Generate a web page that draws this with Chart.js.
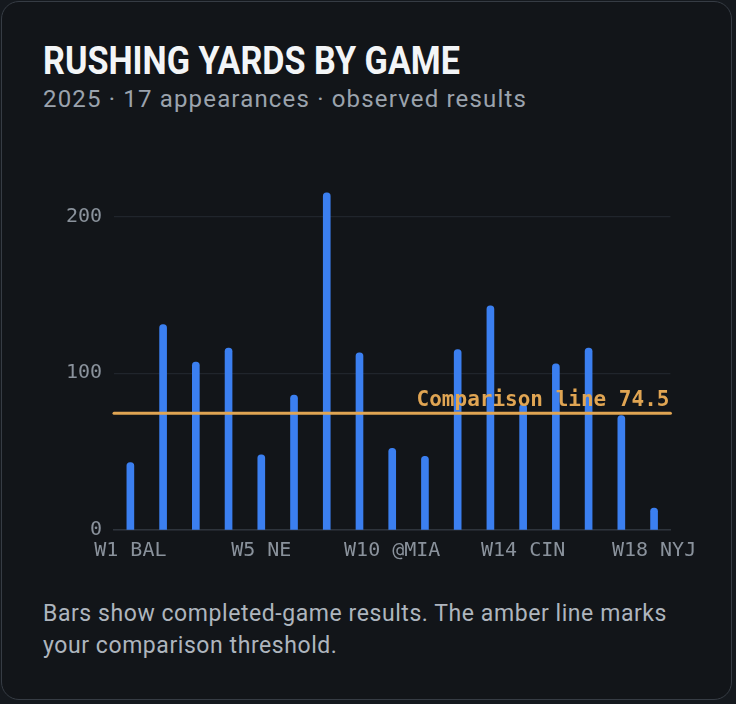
<!DOCTYPE html>
<html>
<head>
<meta charset="utf-8">
<script src="https://cdn.jsdelivr.net/npm/chart.js@4.4.1/dist/chart.umd.min.js"></script>
<style>
  html, body { margin:0; padding:0; background:#15191e; width:736px; height:704px; overflow:hidden; }
  .card { position:absolute; left:1px; top:1px; width:731px; height:699px; background:#121519; border:1.5px solid #363c44; border-radius:18px; box-sizing:border-box; }
  .title { position:absolute; left:43px; top:40px; font-family:"Roboto","Liberation Sans",sans-serif; font-weight:bold; font-size:38px; line-height:42px; color:#f3f5f7; white-space:nowrap; transform-origin:0 0; }
  .sub { position:absolute; left:43px; top:85px; font-family:"Roboto","Noto Sans",sans-serif; font-size:24px; line-height:28px; color:#9ba3ad; white-space:nowrap; }
  .foot { position:absolute; left:43px; top:598px; font-family:"Roboto","Noto Sans",sans-serif; font-size:23px; line-height:32px; color:#aeb5be; white-space:nowrap; }
  .wrap { position:absolute; left:42px; top:150px; width:664px; height:420px; }
</style>
</head>
<body>
<div class="card"></div>
<div class="title" id="title">RUSHING YARDS BY GAME</div>
<div class="sub" id="sub">2025 · 17 appearances · observed results</div>
<div class="wrap"><canvas id="c"></canvas></div>
<div class="foot"><span id="f1">Bars show completed-game results. The amber line marks</span><br><span id="f2">your comparison threshold.</span></div>
<script>
const categories = ["W1 BAL","W2 JAX","W3 GB","W4 MIN","W5 NE","W6 NYG","W8 CHI","W9 SEA","W10 @MIA","W11 DEN","W12 @PIT","W13 LV","W14 CIN","W15 @DET","W16 @LAC","W17 @KC","W18 NYJ"];
const rushingYards = [43,131,107,116,48,86,215,113,52,47,115,143,80,106,116,73,14];
const comparisonValue = 74.5;
const yTicks = [0,100,200];

// fit text widths to the reference layout
(function(){
  const t = document.getElementById('title');
  const tw = t.getBoundingClientRect().width;
  t.style.transform = 'scaleX(' + (417 / tw) + ')';
  function spread(el, target){
    const n = el.textContent.length;
    const w = el.getBoundingClientRect().width;
    el.style.letterSpacing = ((target - w) / n) + 'px';
  }
  spread(document.getElementById('sub'), 484);
  const f1 = document.getElementById('f1');
  const f2 = document.getElementById('f2');
  const n1 = f1.textContent.length;
  const ls = (624 - f1.getBoundingClientRect().width) / n1;
  f1.style.letterSpacing = ls + 'px';
  f2.style.letterSpacing = ls + 'px';
})();

const mono = '"DejaVu Sans Mono","Liberation Mono",monospace';

const refLine = {
  id:'refLine',
  afterDatasetsDraw(chart){
    const {ctx, chartArea, scales} = chart;
    const y = scales.y.getPixelForValue(comparisonValue);
    ctx.save();
    ctx.strokeStyle = '#e0a553';
    ctx.lineWidth = 3;
    ctx.lineCap = 'round';
    ctx.beginPath();
    ctx.moveTo(chartArea.left, y);
    ctx.lineTo(chartArea.right, y);
    ctx.stroke();
    ctx.fillStyle = '#e0a553';
    ctx.font = 'bold 21px ' + mono;
    ctx.textAlign = 'right';
    ctx.textBaseline = 'alphabetic';
    ctx.fillText('Comparison line ' + comparisonValue, chartArea.right - 1, y - 7);
    ctx.restore();
  }
};

new Chart(document.getElementById('c'), {
  type:'bar',
  data:{
    labels: categories,
    datasets:[{
      data: rushingYards,
      backgroundColor:'#3b7ff0',
      barThickness:7,
      borderRadius:4,
      borderSkipped:'start'
    }]
  },
  options:{
    responsive:true,
    maintainAspectRatio:false,
    animation:false,
    layout:{ padding:{ top:35, right:27, bottom:0, left:0 } },
    plugins:{ legend:{display:false}, tooltip:{enabled:false} },
    scales:{
      x:{
        grid:{ display:false, drawTicks:false },
        border:{ display:true, color:'#2e343c', width:1.5 },
        ticks:{
          autoSkip:false, maxRotation:0, padding:9,
          color:'#8a929c', font:{ family:mono, size:20 },
          callback(v, i){ return i % 4 === 0 ? categories[i] : ''; }
        },
        afterFit(s){ s.height = 40; }
      },
      y:{
        min:0, max:220,
        afterBuildTicks(s){ s.ticks = yTicks.map(v => ({value:v})); },
        grid:{ color:'#20252c', lineWidth:1.2, drawTicks:false },
        border:{ display:false },
        ticks:{ padding:12, color:'#8a929c', font:{ family:mono, size:20 } },
        afterFit(s){ s.width = 72; }
      }
    }
  },
  plugins:[refLine]
});
</script>
</body>
</html>
